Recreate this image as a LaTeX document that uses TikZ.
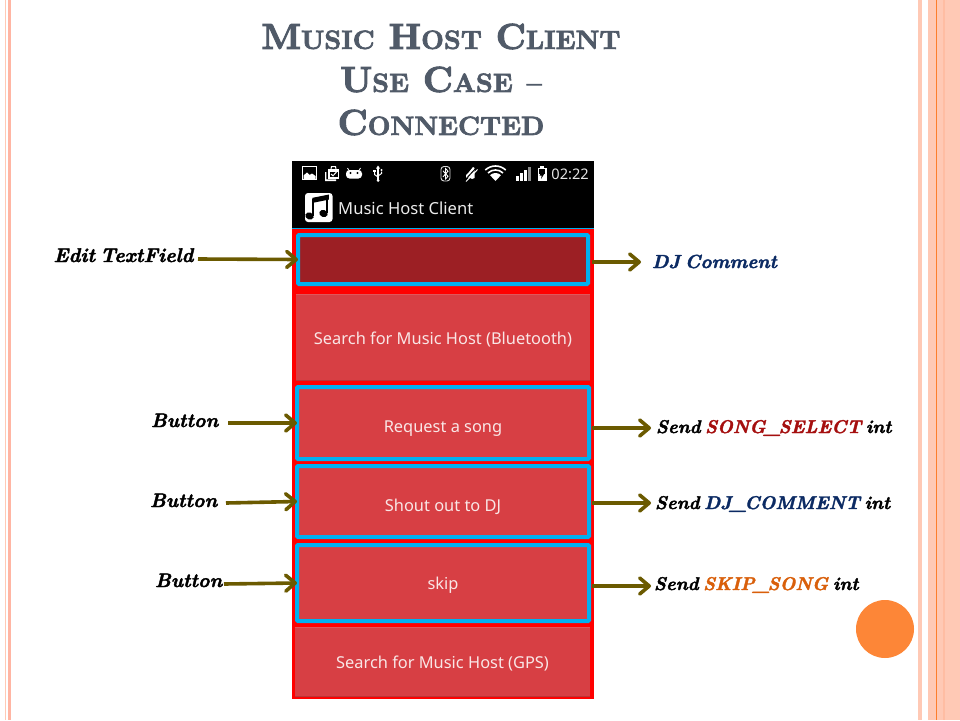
\documentclass[tikz,border=0pt]{standalone}
\usepackage{fontspec}
\setsansfont{Noto Sans}
\newfontfamily\ttlfont[FakeBold=2.6,Ligatures=TeX]{lmroman10-bold.otf}
\newfontfamily\labfont[FakeBold=2,WordSpace=0.6]{lmroman10-bolditalic.otf}
\usetikzlibrary{arrows.meta}
\definecolor{stripeA}{HTML}{FFC9B5}
\definecolor{stripeB}{HTML}{FFBDA3}
\definecolor{stripeC}{HTML}{FD7E2C}
\definecolor{titlec}{HTML}{505A68}
\definecolor{cyanb}{HTML}{00B0F0}
\definecolor{btn}{HTML}{D73F44}
\definecolor{btnhi}{HTML}{E0565A}
\definecolor{btnlo}{HTML}{B93538}
\definecolor{edit}{HTML}{9C1F24}
\definecolor{olive}{HTML}{6B5A00}
\definecolor{redt}{HTML}{A50F0F}
\definecolor{navyt}{HTML}{0B2A63}
\definecolor{oranget}{HTML}{D95F0A}
\definecolor{btntext}{HTML}{F9E6E6}
\definecolor{circ}{HTML}{FD8637}
\newcommand{\SC}[2]{{\fontsize{36.2}{43}\selectfont #1}{\fontsize{26.4}{43}\selectfont #2}}
\newcommand{\tx}[2]{\raisebox{-#1pt}[0pt][0pt]{#2}}
\newcommand{\us}{\kern-1.5pt\_\kern-1.5pt}
\tikzset{
  x=1pt,y=-1pt,
  panel/.style={inner sep=0,outer sep=0,fill=btn,text=btntext,font=\sffamily\fontsize{16.4}{20}\selectfont},
  framed/.style={panel,draw=cyanb,line width=4pt,rounded corners=1pt},
  lab/.style={inner sep=0,outer sep=0,anchor=base west,font=\labfont\fontsize{19.5}{22}\selectfont,text=black},
  labs/.style={lab,font=\labfont\fontsize{18.4}{22}\selectfont},
  arr/.style={draw=olive,line width=3.6pt,-{Straight Barb[length=9.5pt,width=16pt,round]}},
  icon/.style={fill=white,draw=none},
  iconl/.style={draw=white,line width=1.3pt,fill=none}
}
\begin{document}
\begin{tikzpicture}
\useasboundingbox (0,0) rectangle (960,720);
\fill[white] (0,0) rectangle (960,720);
% slide stripes
\fill[stripeA] (918,0) rectangle (922,720);
\fill[stripeA] (928,0) rectangle (960,720);
\fill[stripeB] (943,0) rectangle (945,720);
\fill[stripeC] (936,0) rectangle (937.2,720);
\fill[stripeA] (5,0) rectangle (6.2,720);
\fill[stripeA!90!red] (8,0) rectangle (11,720);
\fill[circ] (885,629) circle (29);
% title
\node[align=center,inner sep=0,text=titlec,font=\ttlfont\fontsize{36.2}{43}\selectfont] (title) at (441,79.5)
 {\SC{M}{USIC} \SC{H}{OST} \SC{C}{LIENT}\\ \SC{U}{SE} \SC{C}{ASE} \SC{}{--}\\ \SC{C}{ONNECTED}};
% phone
\fill[black] (292,161) rectangle (594,229);
\fill[cyanb] (292,228) rectangle (594,229.2);
\fill[red] (292,229.2) rectangle (594,699);
% status icons
\draw[iconl] (302.7,166.7) rectangle (316.3,179.8);
\fill[icon] (303.5,179) -- (303.5,175.5) -- (307,172.5) -- (309.5,175) -- (312,173.5) -- (315.5,176) -- (315.5,179) -- cycle;
\fill[icon] (325,172) -- (326.4,172) -- (326.4,179.4) -- (336,179.4) -- (336,181) -- (325,181) -- cycle;
\fill[icon] (328,169) rectangle (339,178.5);
\fill[black] (329.5,171.5) rectangle (337.5,177);
\draw[white,line width=1pt] (331,174) -- (333,175.8) -- (336.5,172);
\draw[white,line width=1pt] (331,169) -- (331.5,166.5) -- (335.5,166.5) -- (336,169);
\fill[icon,rounded corners=3.5pt] (346,170) rectangle (362,178.5);
\fill[black] (350.5,173) circle (1.1) (357.5,173) circle (1.1);
\draw[white,line width=.8pt] (349,170.5) -- (347.5,168) (359,170.5) -- (360.5,168);
\draw[white,line width=1.2pt] (378,168) -- (378,181);
\fill[icon] (378,165.5) -- (380,168.5) -- (376,168.5) -- cycle;
\fill[icon] (378,180.5) circle (1.5);
\draw[white,line width=1pt] (378,177) -- (374.5,174.5) -- (374.5,171.5) (378,176) -- (381.5,173.5) -- (381.5,171.5);
\fill[icon] (373.4,169.5) rectangle (375.6,171.5);
\fill[icon] (381.5,170) circle (1.1);
\draw[white!85!black,line width=.9pt,rounded corners=3pt] (441,166.5) rectangle (450,181);
\draw[white,line width=.9pt] (443,170.8) -- (448,176.3) -- (445.5,179) -- (445.5,168.5) -- (448,171.2) -- (443,176.8);
% muted speaker
\fill[icon] (466,175) -- (469,172) -- (473,167) -- (474.5,168) -- (474.5,178) -- (472,179) -- (469,177.5) -- (466,178) -- cycle;
\draw[black,line width=1pt] (464,181) -- (477,167);
\draw[white,line width=1pt] (466,181.5) -- (477.5,169.5);
% wifi
\draw[white,line width=1.6pt] (495.5,181) ++(47:15pt) arc (47:133:15pt);
\draw[white,line width=1.6pt] (495.5,181) ++(47:11pt) arc (47:133:11pt);
\fill[white] (495.5,181) -- ++(47:8pt) arc (47:133:8pt) -- cycle;
% signal
\fill[icon] (516,176) rectangle (518.5,180.5);
\fill[icon] (520,173) rectangle (522.5,180.5);
\fill[icon] (524,169.5) rectangle (526.5,180.5);
\fill[white!55!black] (528,166.5) rectangle (530.5,180.5);
% battery
\fill[icon] (537.5,167.5) rectangle (546.5,180.5);
\fill[icon] (540,166) rectangle (544,168);
\fill[black] (539,169) rectangle (545,174);
\fill[black] (542.7,170) -- (539.5,175.5) -- (541.7,175.5) -- (541,179) -- (544.5,173.5) -- (542.5,173.5) -- cycle;
\node[inner sep=0,anchor=base east,text=white!90!black,font=\sffamily\fontsize{14.6}{18}\selectfont] (clock) at (589,179) {02:22};
% app icon
\fill[icon,rounded corners=3pt] (305,193) rectangle (332.5,222);
\draw[black,line width=1.5pt,fill=black] (313,198.5) -- (328,195.5) -- (328,199) -- (313,202) -- cycle;
\draw[black,line width=1.9pt] (313,199) -- (313,215.5) (327.2,196) -- (327.2,213);
\fill[black,rotate around={-20:(309.5,216)}] (309.5,216) ellipse (4.3 and 3.5);
\fill[black,rotate around={-20:(323.5,213.5)}] (323.5,213.5) ellipse (4.3 and 3.5);
\node[inner sep=0,anchor=base west,text=white!92!black,font=\sffamily\fontsize{16.6}{20}\selectfont] (app) at (338,214) {Music Host Client};
% buttons
\node[framed,fill=edit,minimum width=290pt,minimum height=49pt] (edit) at (443,259.5) {};
\node[panel,minimum width=294pt,minimum height=87pt] (search) at (443,337.5) {\tx{6.5}{Search for Music Host (Bluetooth)}};
\draw[btnhi,line width=.8pt] (search.north west) ++(0,.4) -- ++(294,0);
\draw[btnlo,line width=1pt] (search.south west) ++(0,-.5) -- ++(294,0);
\node[framed,minimum width=292pt,minimum height=72pt] (song) at (443,423) {\tx{9}{Request a song}};
\node[framed,minimum width=292pt,minimum height=71pt] (shout) at (443,501.5) {\tx{9.5}{Shout out to DJ}};
\node[framed,minimum width=292pt,minimum height=76pt] (skip) at (443,583) {\tx{6}{skip}};
\node[panel,minimum width=295pt,minimum height=70pt] (gps) at (442.5,662) {\tx{6}{Search for Music Host (GPS)}};
\draw[btnhi,line width=.8pt] (gps.north west) ++(0,.4) -- ++(295,0);
\draw[btnlo,line width=1pt] (gps.south west) ++(0,-.5) -- ++(295,0);
% labels
\node[lab,font=\labfont\fontsize{19.9}{22}\selectfont] (l1) at (53.5,262) {Edit TextField};
\node[lab] (l2) at (151,427) {Button};
\node[lab] (l3) at (150,507) {Button};
\node[lab] (l4) at (155,587) {Button};
\node[lab,text=navyt,font=\labfont\fontsize{18.9}{22}\selectfont] (r1) at (652,268) {DJ Comment};
\node[labs] (r2) at (656,433) {Send \textcolor{redt}{SONG\us SELECT} int};
\node[labs] (r3) at (655,509) {Send \textcolor{navyt}{DJ\us COMMENT} int};
\node[labs] (r4) at (654,590) {Send \textcolor{oranget}{SKIP\us SONG} int};
% free ends
\coordinate (a1) at (198,259);
\coordinate (a2) at (228,423);
\coordinate (a3) at (226,503);
\coordinate (a4) at (224,584);
\coordinate (b1) at (641,262);
\coordinate (b2) at (651,428);
\coordinate (b3) at (651,503);
\coordinate (b4) at (651,586);
\coordinate (c1) at (592,262);
\coordinate (c2) at (592,428);
\coordinate (c3) at (592,503);
\coordinate (c4) at (592,586);
\draw[arr] (a1) -- (edit.west);
\draw[arr] (a2) -- (song.west);
\draw[arr] (a3) -- (shout.west);
\draw[arr] (a4) -- (skip.west);
\draw[arr] (c1) -- (b1);
\draw[arr] (c2) -- (b2);
\draw[arr] (c3) -- (b3);
\draw[arr] (c4) -- (b4);
\end{tikzpicture}
\end{document}
